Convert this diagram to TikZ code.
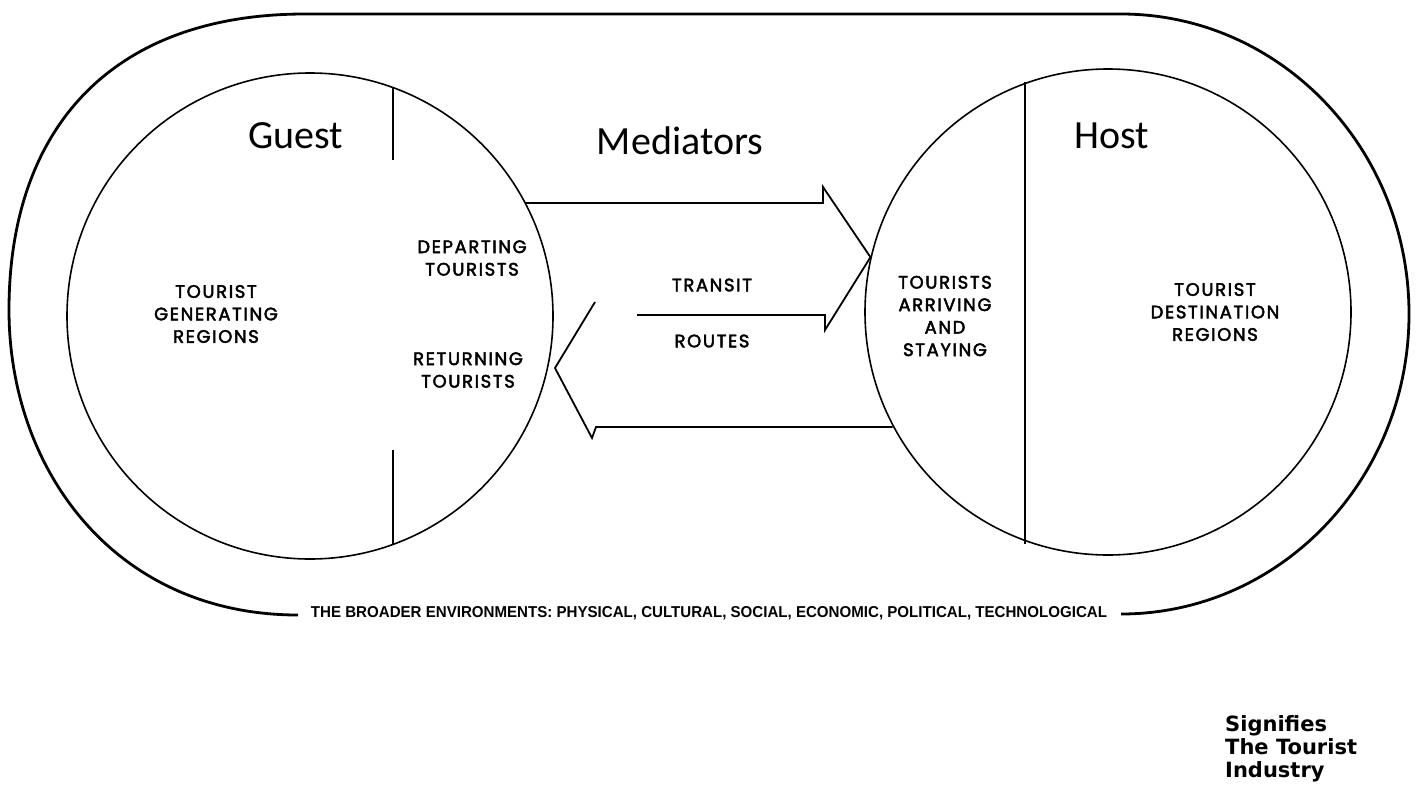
\documentclass[tikz,border=0pt]{standalone}
\usepackage{fontspec}
\setmainfont{Carlito}
\newfontfamily\labelfont[LetterSpace=9,FakeBold=2.5]{Poppins}
\newfontfamily\boldsans{DejaVu Sans}
\newfontfamily\envfont{Liberation Sans}
\usetikzlibrary{calc}
\begin{document}
\begin{tikzpicture}[x=1pt,y=-1pt,
  region/.style={circle,draw,line width=1.6pt,minimum size=486pt,inner sep=0pt},
  title/.style={font=\fontsize{40}{44}\selectfont,inner sep=0pt},
  lbl/.style={font=\labelfont\fontsize{18}{22.5}\selectfont,align=center,inner sep=0pt},
  flow/.style={line width=1.8pt,line join=miter},
  outer/.style={line width=2.8pt},
  divider/.style={line width=1.5pt}]
\useasboundingbox (0,0) rectangle (1421,798);
\fill[white] (0,0) rectangle (1421,798);

% outer boundary (the broader environments)
\coordinate (oL) at (298,615);
\coordinate (oR) at (1121,614);
\draw[outer] (oL) .. controls (115,615) and (9,470) .. (9,310)
  .. controls (9,130) and (110,14) .. (305,14) -- (1121,14)
  arc[start angle=-90,end angle=90,x radius=288,y radius=300];

% the two regions
\node[region] (guest) at (310,316) {};
\node[region] (host) at (1108,312) {};

% dividers
\draw[divider] (393,160) -- (393,88);
\draw[divider] (393,450) -- (393,545);
\draw[divider] (1025,82) -- (1025,544);

% outgoing arrow
\coordinate (a1) at (guest.28);
\coordinate (a2) at (823,203);
\coordinate (a3) at (823,187);
\coordinate (tip) at (host.167);
\coordinate (a5) at (825,330);
\coordinate (a6) at (825,315);
\coordinate (a7) at (637,315);
\draw[flow] (a1 |- a2) -- (a2) -- (a3) -- (tip) -- (a5) -- (a6) -- (a7);

% returning arrow
\coordinate (rtip) at (555,368);
\coordinate (r1) at (595,302);
\coordinate (r2) at (592,438);
\coordinate (r3) at (596,427);
\coordinate (r4) at (host.208);
\draw[flow] (r1) -- (rtip) -- (r2) -- (r3) -- (r4 |- r3);

% titles
\node[title] (tguest) at (296,136) {Guest};
\node[title] (tmed) at (680,141) {Mediators};
\node[title] (thost) at (1112,136) {Host};

% labels
\node[lbl] (gen) at (216,314) {TOURIST\\GENERATING\\REGIONS};
\node[lbl] (dep) at (472,258) {DEPARTING\\TOURISTS};
\node[lbl] (ret) at (468,370) {RETURNING\\TOURISTS};
\node[lbl] (transit) at (712,285) {TRANSIT};
\node[lbl] (routes) at (712,341) {ROUTES};
\node[lbl] (arr) at (945,316) {TOURISTS\\ARRIVING\\AND\\STAYING};
\node[lbl] (dest) at (1215,312) {TOURIST\\DESTINATION\\REGIONS};

% environments
\node[inner sep=0pt] (env) at (709,613) {\resizebox{796pt}{11pt}{\envfont\bfseries THE BROADER ENVIRONMENTS: PHYSICAL, CULTURAL, SOCIAL, ECONOMIC, POLITICAL, TECHNOLOGICAL}};

% legend
\node[anchor=north west,inner sep=0pt,align=left,font=\boldsans\bfseries\fontsize{21}{23}\selectfont] (legend) at (1225,715) {Signifies\\The Tourist\\Industry};
\end{tikzpicture}
\end{document}
